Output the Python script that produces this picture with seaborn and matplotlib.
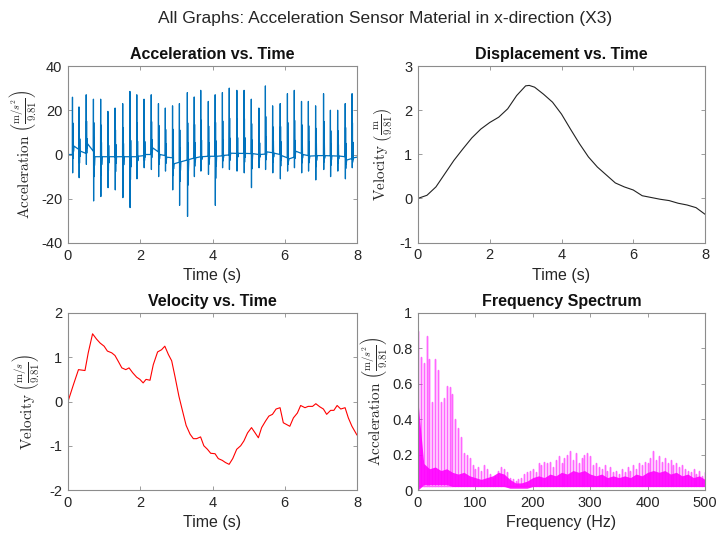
import numpy as np
import pandas as pd
import matplotlib
matplotlib.use("Agg")
import matplotlib.pyplot as plt
import seaborn as sns

# ---------------------------------------------------------------- data
# Acceleration record: one impact every ~0.2 s.  For each impact: time,
# positive peak, negative peak, and the baseline just before / after it.
spike_t = [0.12, 0.30, 0.50, 0.70, 0.90, 1.10, 1.30, 1.51, 1.71, 1.90,
           2.10, 2.30, 2.50, 2.69, 2.89, 3.08, 3.30, 3.49, 3.67, 3.88,
           4.07, 4.27, 4.46, 4.67, 4.87, 5.07, 5.28, 5.46, 5.66, 5.87,
           6.07, 6.26, 6.46, 6.65, 6.85, 7.07, 7.26, 7.46, 7.67, 7.86]
spike_hi = [25.9, 21.5, 27.0, 25.0, 25.0, 19.5, 21.0, 23.0, 28.5, 27.0,
            25.0, 27.0, 23.0, 21.0, 22.0, 23.0, 28.0, 26.0, 29.0, 24.0,
            27.0, 28.0, 30.0, 29.0, 29.0, 25.0, 21.0, 31.0, 22.0, 23.0,
            27.5, 29.0, 24.0, 24.0, 22.0, 27.5, 20.0, 20.0, 23.0, 27.5]
spike_lo = [-8.3, -10.5, -4.5, -21.0, -19.0, -15.0, -16.0, -19.5, -24.0, -11.0,
            -6.0, -6.8, -10.0, -7.5, -16.0, -23.0, -28.0, -10.0, -7.5, -9.0,
            -23.0, -6.0, -6.8, -7.5, -8.3, -15.0, -6.0, -6.8, -8.3, -11.0,
            -7.5, -6.0, -8.3, -7.5, -11.5, -6.8, -10.0, -7.5, -11.0, -6.0]
base_pre = [0.0, 2.3, 0.5, 1.5, -1.0, -1.0, -1.0, -1.0, -1.0, -1.0,
            -0.5, 0.0, 1.2, -0.5, -1.5, -3.5, -2.5, -1.6, -1.0, -0.8,
            -0.8, -0.6, -0.2, 0.5, 0.5, 0.4, 0.0, 0.2, 0.8, 0.0,
            -1.5, -1.2, 0.5, -0.5, -0.6, -0.5, -0.6, -0.7, -1.0, -1.8]
base_post = [3.8, 1.5, 4.8, -1.0, -1.0, -1.0, -1.0, -1.0, -1.0, -0.8,
             0.0, 3.0, 0.0, -1.2, -4.2, -3.3, -2.3, -1.5, -1.0, -0.8,
             -0.8, -0.4, 0.6, 0.5, 0.5, 0.4, 0.0, 1.2, 0.6, -0.5,
             -2.0, 1.5, 0.0, -0.7, -0.5, -0.5, -0.6, -0.7, -2.5, -1.5]
acc_start = (0.0, 0.0)
acc_end = (8.0, -1.2)

# Integrated curve (top right)
disp_t = [0.0, 0.25, 0.5, 0.75, 1.0, 1.25, 1.5, 1.75, 2.0, 2.25, 2.5, 2.75,
          3.0, 3.1, 3.25, 3.5, 3.75, 4.0, 4.25, 4.5, 4.75, 5.0, 5.25, 5.5,
          5.75, 6.0, 6.25, 6.5, 6.75, 7.0, 7.25, 7.5, 7.75, 8.0]
disp_v = [0.0, 0.07, 0.26, 0.56, 0.86, 1.12, 1.37, 1.57, 1.72, 1.84, 2.03, 2.33,
          2.55, 2.56, 2.52, 2.36, 2.18, 1.91, 1.57, 1.24, 0.94, 0.71, 0.53, 0.35,
          0.26, 0.19, 0.06, 0.02, -0.02, -0.05, -0.11, -0.15, -0.21, -0.36]

# Velocity (bottom left)
vel_t = [0.0, 0.15, 0.29, 0.38, 0.47, 0.56, 0.68, 0.79, 0.89, 1.0, 1.09, 1.21,
         1.30, 1.39, 1.49, 1.60, 1.69, 1.79, 1.90, 1.99, 2.08, 2.16, 2.27, 2.36,
         2.48, 2.59, 2.68, 2.78, 2.87, 2.96, 3.07, 3.16, 3.27, 3.38, 3.47, 3.56,
         3.67, 3.76, 3.86, 3.95, 4.07, 4.16, 4.27, 4.36, 4.46, 4.56, 4.67, 4.78,
         4.87, 4.97, 5.08, 5.18, 5.27, 5.36, 5.47, 5.56, 5.66, 5.76, 5.87, 5.96,
         6.05, 6.14, 6.24, 6.35, 6.44, 6.56, 6.65, 6.77, 6.86, 6.97, 7.07, 7.16,
         7.27, 7.36, 7.45, 7.55, 7.67, 7.76, 7.86, 8.0]
vel_v = [0.0, 0.38, 0.72, 0.71, 0.70, 1.10, 1.53, 1.41, 1.32, 1.25, 1.14, 1.10,
         1.04, 0.91, 0.76, 0.72, 0.76, 0.65, 0.55, 0.50, 0.42, 0.50, 0.48, 0.83,
         1.12, 1.17, 1.25, 1.06, 0.92, 0.57, 0.12, -0.18, -0.54, -0.74, -0.84, -0.84,
         -0.80, -1.00, -1.08, -1.17, -1.18, -1.29, -1.33, -1.38, -1.42, -1.29, -1.08, -1.00,
         -0.89, -0.71, -0.59, -0.71, -0.82, -0.59, -0.44, -0.33, -0.29, -0.17, -0.14, -0.48,
         -0.52, -0.56, -0.37, -0.26, -0.09, -0.14, -0.11, -0.11, -0.05, -0.12, -0.17, -0.29,
         -0.20, -0.20, -0.09, -0.17, -0.14, -0.37, -0.56, -0.76]

# Spectrum: harmonic peaks every 5 Hz and the broadband floor
harm_f = np.arange(0, 501, 5)
harm_a = [0.90, 0.75, 0.72, 0.87, 0.74, 0.50, 0.74, 0.68, 0.50, 0.52,
          0.59, 0.58, 0.54, 0.40, 0.35, 0.30, 0.21, 0.20, 0.18, 0.14,
          0.12, 0.13, 0.11, 0.14, 0.12, 0.09, 0.07, 0.08, 0.11, 0.13,
          0.12, 0.10, 0.07, 0.06, 0.05, 0.06, 0.07, 0.09, 0.10, 0.11,
          0.12, 0.10, 0.15, 0.14, 0.16, 0.15, 0.16, 0.13, 0.17, 0.19,
          0.15, 0.18, 0.20, 0.22, 0.17, 0.21, 0.15, 0.18, 0.20, 0.21,
          0.19, 0.14, 0.15, 0.13, 0.12, 0.14, 0.11, 0.13, 0.10, 0.11,
          0.09, 0.12, 0.10, 0.13, 0.11, 0.14, 0.12, 0.15, 0.14, 0.16,
          0.15, 0.18, 0.22, 0.17, 0.19, 0.16, 0.18, 0.15, 0.17, 0.14,
          0.15, 0.13, 0.14, 0.12, 0.11, 0.10, 0.12, 0.09, 0.11, 0.08,
          0.10]
floor_f = np.arange(0, 501, 10)
floor_hi = [0.50, 0.15, 0.12, 0.13, 0.11, 0.12, 0.10, 0.09, 0.10, 0.08,
            0.07, 0.06, 0.07, 0.08, 0.10, 0.09, 0.06, 0.04, 0.04, 0.05,
            0.07, 0.08, 0.07, 0.09, 0.08, 0.10, 0.09, 0.11, 0.10, 0.11,
            0.09, 0.08, 0.09, 0.07, 0.08, 0.07, 0.08, 0.07, 0.09, 0.08,
            0.10, 0.11, 0.10, 0.11, 0.09, 0.10, 0.08, 0.09, 0.07, 0.08,
            0.06]
floor_lo = [0.0, 0.03, 0.03, 0.03, 0.03, 0.03, 0.02, 0.02, 0.02, 0.02,
            0.02, 0.02, 0.02, 0.02, 0.02, 0.02, 0.01, 0.01, 0.01, 0.01,
            0.02, 0.02, 0.02, 0.02, 0.02, 0.02, 0.02, 0.02, 0.02, 0.02,
            0.02, 0.02, 0.02, 0.02, 0.02, 0.02, 0.02, 0.02, 0.02, 0.02,
            0.02, 0.02, 0.02, 0.02, 0.02, 0.02, 0.02, 0.02, 0.02, 0.02,
            0.02]

# ---------------------------------------------------------------- series
# each impact: up-stroke, down-stroke and a short decaying ring
ring_shape = [(0.000, None, 0.0), (0.004, "hi", 1.0), (0.009, "lo", 1.0),
              (0.014, "hi", 0.55), (0.019, "lo", 0.45), (0.026, "hi", 0.25),
              (0.033, "lo", 0.20)]
acc_rows = [acc_start]
for t, hi, lo, pre, post in zip(spike_t, spike_hi, spike_lo, base_pre, base_post):
    for dt, kind, m in ring_shape:
        if kind is None:
            acc_rows.append((t + dt, pre))
        elif kind == "hi":
            acc_rows.append((t + dt, pre + m * (hi - pre)))
        else:
            acc_rows.append((t + dt, post + m * (lo - post)))
    acc_rows.append((t + 0.045, post))
acc_rows.append(acc_end)
acc = pd.DataFrame(acc_rows, columns=["t", "a"])

spec_x, spec_y = [], []
for f, a in zip(harm_f, harm_a):
    spec_x += [f, f, f]
    spec_y += [0.02, a, 0.02]
spec = pd.DataFrame({"f": spec_x, "a": spec_y})

# ---------------------------------------------------------------- style
sns.set_theme(style="white")
plt.rcParams["font.family"] = ["Liberation Sans", "DejaVu Sans"]
plt.rcParams["mathtext.fontset"] = "cm"

FRAME = "#8c8c8c"
TXT = "#262626"

fig = plt.figure(figsize=(7.19, 5.38), dpi=100)
fig.patch.set_facecolor("white")

W, H = 719.0, 538.0
def box(x0, y0, x1, y1):
    return [x0 / W, 1 - y1 / H, (x1 - x0) / W, (y1 - y0) / H]

ax1 = fig.add_axes(box(68, 66, 357, 243))
ax2 = fig.add_axes(box(418, 66, 705, 242.5))
ax3 = fig.add_axes(box(68, 313, 357, 490))
ax4 = fig.add_axes(box(418, 313, 705, 490))

def style(ax, xlim, ylim, xticks, yticks, title, xlabel, ylabel):
    ax.set_xlim(*xlim)
    ax.set_ylim(*ylim)
    ax.set_xticks(xticks)
    ax.set_yticks(yticks)
    ax.set_xticklabels([f"{v:g}" for v in xticks])
    ax.set_yticklabels([f"{v:g}" for v in yticks])
    for s in ax.spines.values():
        s.set_visible(True)
        s.set_color(FRAME)
        s.set_linewidth(0.8)
    ax.tick_params(direction="in", length=3, width=0.6, color=FRAME,
                   top=True, right=True, bottom=True, left=True,
                   labelsize=10.5, labelcolor=TXT, pad=4)
    ax.set_title(title, fontsize=11.5, fontweight="bold", color="#111111", pad=5)
    ax.set_xlabel(xlabel, fontsize=11.5, color=TXT, labelpad=4)
    ax.set_ylabel(ylabel, fontsize=11, color=TXT)
    ax.set_facecolor("white")

sns.lineplot(data=acc, x="t", y="a", ax=ax1, color="#0072BD", lw=0.9,
             sort=False, estimator=None)
style(ax1, (0, 8), (-40, 40), [0, 2, 4, 6, 8], [-40, -20, 0, 20, 40],
      "Acceleration vs. Time", "Time (s)",
      r"$\mathrm{Acceleration}\ \left(\frac{\mathrm{m}/s^2}{9.81}\right)$")

sns.lineplot(x=disp_t, y=disp_v, ax=ax2, color="#222222", lw=0.8)
style(ax2, (0, 8), (-1, 3), [0, 2, 4, 6, 8], [-1, 0, 1, 2, 3],
      "Displacement vs. Time", "Time (s)",
      r"$\mathrm{Velocity}\ \left(\frac{\mathrm{m}}{9.81}\right)$")

sns.lineplot(x=vel_t, y=vel_v, ax=ax3, color="#FF0000", lw=0.8)
style(ax3, (0, 8), (-2, 2), [0, 2, 4, 6, 8], [-2, -1, 0, 1, 2],
      "Velocity vs. Time", "Time (s)",
      r"$\mathrm{Velocity}\ \left(\frac{\mathrm{m}/s}{9.81}\right)$")

ax4.fill_between(floor_f, floor_lo, floor_hi, color="#FF00FF", alpha=0.9, lw=0)
sns.lineplot(data=spec, x="f", y="a", ax=ax4, color="#FF00FF", lw=1.0,
             alpha=0.6, sort=False, estimator=None)
style(ax4, (0, 500), (0, 1), [0, 100, 200, 300, 400, 500],
      [0, 0.2, 0.4, 0.6, 0.8, 1],
      "Frequency Spectrum", "Frequency (Hz)",
      r"$\mathrm{Acceleration}\ \left(\frac{\mathrm{m}/s^2}{9.81}\right)$")

ax1.yaxis.set_label_coords(-0.1, 0.5)
ax3.yaxis.set_label_coords(-0.09, 0.5)
ax2.yaxis.set_label_coords(-0.08, 0.5)
ax4.yaxis.set_label_coords(-0.098, 0.5)

fig.text(0.536, 0.966, "All Graphs: Acceleration Sensor Material in x-direction (X3)",
         ha="center", va="center", fontsize=12.5, color=TXT)

fig.savefig("out.png", dpi=100, facecolor="white")
